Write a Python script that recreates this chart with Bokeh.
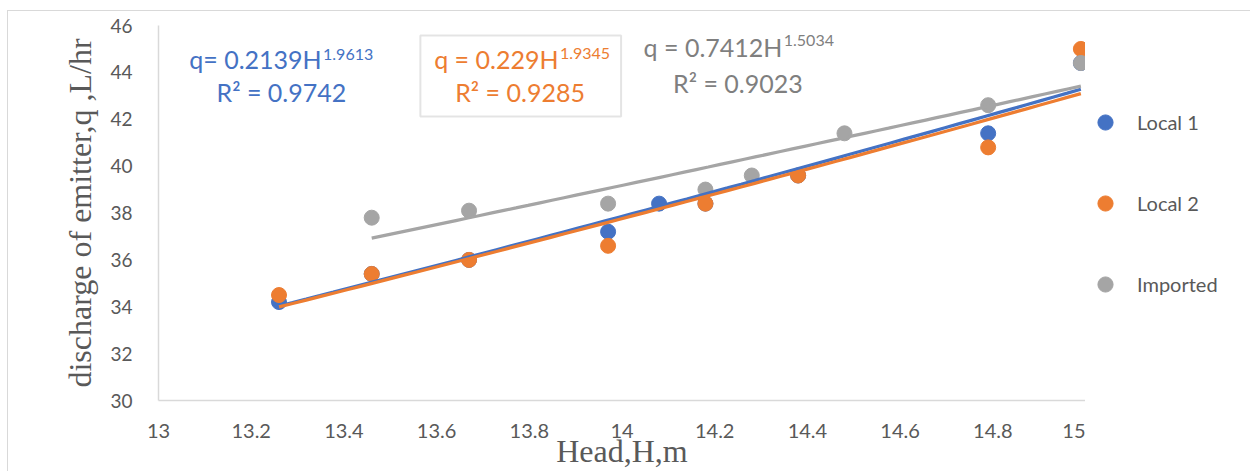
import numpy as np
from bokeh.plotting import figure
from bokeh.layouts import row
from bokeh.models import Label, Legend, LegendItem, BoxAnnotation, FixedTicker
from bokeh.embed import file_html
from bokeh.resources import INLINE

# ---- data ----
local1_h = [13.26, 13.46, 13.67, 13.97, 14.08, 14.18, 14.38, 14.79, 14.99]
local1_q = [34.2, 35.4, 36.0, 37.2, 38.4, 38.4, 39.6, 41.4, 44.4]

local2_h = [13.26, 13.46, 13.67, 13.97, 14.18, 14.38, 14.79, 14.99]
local2_q = [34.5, 35.4, 36.0, 36.6, 38.4, 39.6, 40.8, 45.0]

imported_h = [13.46, 13.67, 13.97, 14.18, 14.28, 14.48, 14.79, 14.99]
imported_q = [37.8, 38.1, 38.4, 39.0, 39.6, 41.4, 42.6, 44.4]

# power trend lines q = a * H^b (coefficients as printed on the chart)
trend_a = [0.2139, 0.229, 0.7412]
trend_b = [1.9613, 1.9345, 1.5034]
trend_r2 = ["0.9742", "0.9285", "0.9023"]

series_names = ["Local 1", "Local 2", "Imported"]
colors = ["#4472C4", "#ED7D31", "#A5A5A5"]
label_colors = ["#4472C4", "#ED7D31", "#7F7F7F"]

x_ticks = [13, 13.2, 13.4, 13.6, 13.8, 14, 14.2, 14.4, 14.6, 14.8, 15]
x_tick_labels = ["13", "13.2", "13.4", "13.6", "13.8", "14", "14.2", "14.4", "14.6", "14.8", "15"]
y_ticks = [30, 32, 34, 36, 38, 40, 42, 44, 46]

TXT = "#595959"
FONT = "Lato"

p = figure(width=1077, height=460, x_range=(13, 15), y_range=(30, 46),
           output_backend="svg", toolbar_location=None,
           min_border_left=150, min_border_right=0, min_border_top=14,
           min_border_bottom=71)
p.outline_line_color = None
p.xgrid.visible = False
p.ygrid.visible = False
p.background_fill_color = "white"
p.border_fill_color = "white"

xa = p.xaxis[0]
xa.ticker = FixedTicker(ticks=x_ticks)
xa.major_label_overrides = {t: l for t, l in zip(x_ticks, x_tick_labels)}
ya = p.yaxis[0]
ya.ticker = FixedTicker(ticks=y_ticks)
for ax in (xa, ya):
    ax.axis_line_color = "#D9D9D9"
    ax.axis_line_width = 1.5
    ax.major_tick_line_color = None
    ax.minor_tick_line_color = None
    ax.major_label_text_color = TXT
    ax.major_label_text_font = FONT
    ax.axis_label_text_color = TXT
    ax.axis_label_text_font = "Liberation Serif"
    ax.axis_label_text_font_style = "normal"
    ax.axis_label_text_font_size = "32px"
xa.major_label_text_font_size = "20px"
ya.major_label_text_font_size = "19px"
xa.major_label_standoff = 17
ya.major_label_standoff = 20
xa.axis_label = "Head,H,m"
ya.axis_label = "discharge of emitter,q ,L/hr"
xa.axis_label_standoff = -8
ya.axis_label_standoff = 9

# points
hs = [local1_h, local2_h, imported_h]
qs = [local1_q, local2_q, imported_q]
for h, q, c in zip(hs, qs, colors):
    p.scatter(h, q, size=15, color=c, line_color=c)

# trend lines
for h, a, b, c in zip(hs, trend_a, trend_b, colors):
    xx = np.linspace(min(h), max(h), 60)
    p.line(xx, a * xx ** b, line_color=c, line_width=3.25)

# equation labels
eq_main = ["q= 0.2139H", "q = 0.229H", "q = 0.7412H"]
eq_sup = ["1.9613", "1.9345", "1.5034"]
main_pos = [(13.352, 44.58), (13.863, 44.58), (14.346, 45.10)]
sup_pos = [(13.355, 44.78), (13.866, 44.82), (14.349, 45.36)]
r2_pos = [(13.265, 43.18), (13.780, 43.18), (14.25, 43.55)]
for i in range(3):
    p.add_layout(Label(x=main_pos[i][0], y=main_pos[i][1], text=eq_main[i],
                       text_align="right", text_baseline="alphabetic",
                       text_font=FONT, text_font_size="25px", text_color=label_colors[i]))
    p.add_layout(Label(x=sup_pos[i][0], y=sup_pos[i][1], text=eq_sup[i],
                       text_align="left", text_baseline="alphabetic",
                       text_font=FONT, text_font_size="16px", text_color=label_colors[i]))
    p.add_layout(Label(x=r2_pos[i][0], y=r2_pos[i][1], text="R² = " + trend_r2[i],
                       text_align="center", text_baseline="alphabetic",
                       text_font=FONT, text_font_size="25px", text_color=label_colors[i]))

p.add_layout(BoxAnnotation(left=13.565, right=13.998, bottom=42.117, top=45.573,
                           fill_alpha=0, line_color="#A6A6A6", line_width=2))

# legend panel (separate small figure; its series lie outside its empty ranges)
pl = figure(width=165, height=460, x_range=(0, 1), y_range=(0, 1),
            output_backend="svg", toolbar_location=None,
            x_axis_location=None, y_axis_location=None, min_border=0)
pl.outline_line_color = None
pl.xgrid.visible = False
pl.ygrid.visible = False
leg_rends = [pl.scatter(h, q, size=15, color=c, line_color=c) for h, q, c in zip(hs, qs, colors)]
legend = Legend(items=[LegendItem(label=n, renderers=[r]) for n, r in zip(series_names, leg_rends)],
                location=(1, 97), orientation="vertical", spacing=43,
                glyph_width=38, glyph_height=38, label_height=38, label_standoff=13,
                padding=0, margin=0, border_line_color=None, background_fill_alpha=0,
                label_text_font=FONT, label_text_font_size="20px", label_text_color=TXT)
pl.add_layout(legend)

layout = row(p, pl, margin=(10, 0, 0, 7),
             styles={"border-top": "1px solid #d9d9d9", "border-left": "1px solid #d9d9d9"})

open("out.html", "w").write(file_html(layout, INLINE))
